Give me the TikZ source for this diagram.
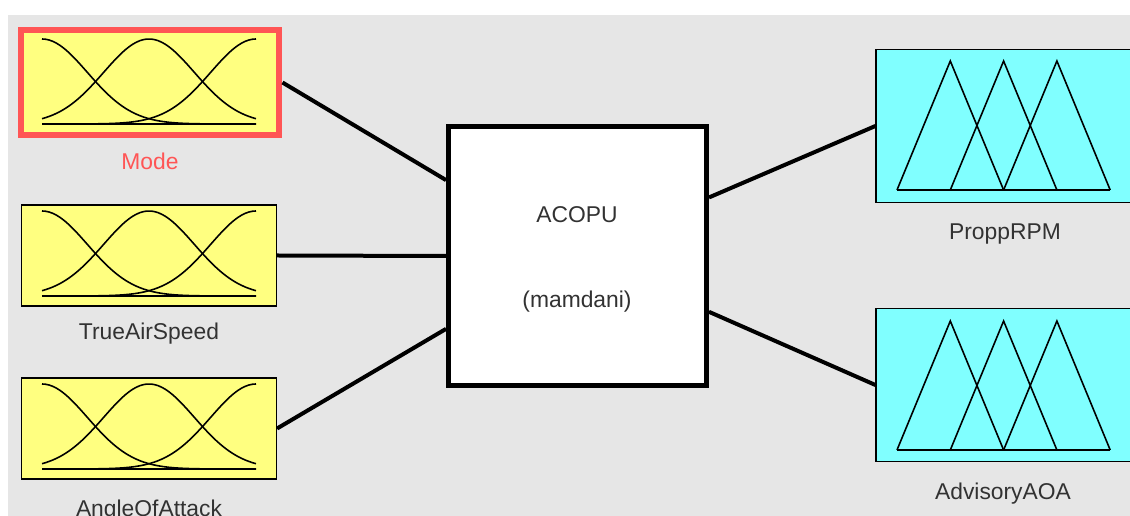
\documentclass[tikz,border=0pt]{standalone}
\usepackage{fontspec}
\setmainfont{Liberation Sans}

\definecolor{bggray}{RGB}{230,230,230}
\definecolor{infill}{RGB}{255,255,128}
\definecolor{outfill}{RGB}{128,255,255}
\definecolor{selred}{RGB}{255,85,85}
\definecolor{lblgray}{RGB}{50,50,50}

\tikzset{
  varbox/.style={draw=black, line width=0.7pt, inner sep=0pt, minimum width=5.1cm},
  inbox/.style={varbox, fill=infill, minimum height=2.02cm},
  outbox/.style={varbox, fill=outfill, minimum height=3.06cm},
  selbox/.style={inbox, draw=selred, line width=0.12cm, minimum width=5.18cm, minimum height=2.12cm},
  fisbox/.style={draw=black, fill=white, line width=0.1cm, inner sep=0pt, minimum width=5.16cm, minimum height=5.18cm},
  lbl/.style={font=\fontsize{13}{15}\selectfont, text=lblgray, inner sep=0pt, anchor=base},
  wire/.style={line width=0.08cm},
  mfline/.style={line width=0.9pt, black},
  pics/gaussmf/.style={code={
    \foreach \c in {0,107,214}
      \draw[mfline] plot[domain=0:214, samples=60, smooth] (\x, {-85*exp(-0.5*((\x-\c)/45.4)^2)});
    \draw[mfline] (0,0) -- (214,0);
  }},
  pics/trimf/.style={code={
    \foreach \c in {0,53.3,106.6}
      \draw[mfline, line join=miter] (\c,0) -- (\c+53.3,-129) -- (\c+106.6,0);
    \draw[mfline] (0,0) -- (213.2,0);
  }},
}

\begin{document}
\begin{tikzpicture}[x=0.02cm, y=-0.02cm]
\useasboundingbox (0,0) rectangle (1130,516);
\fill[bggray] (8,15) rectangle (1130,516);

% Inputs
\node[selbox] (mode) at (150,82.5) {};
\node[inbox] (tas) at (149,255.5) {};
\node[inbox] (aoa) at (149,428.5) {};
\pic at (42,124) {gaussmf};
\pic at (42,296) {gaussmf};
\pic at (42,469) {gaussmf};
\node[lbl, text=selred] (modelbl) at (150,170) {Mode};
\node[lbl] (taslbl) at (149,340) {TrueAirSpeed};
\node[lbl] (aoalbl) at (149,517) {AngleOfAttack};

% Rule block
\node[fisbox] (fis) at (577.5,256) {};
\node[lbl] (fisname) at (577,223) {ACOPU};
\node[lbl] (fistype) at (577,308) {(mamdani)};

% Outputs
\node[outbox] (rpm) at (1003.5,126) {};
\node[outbox] (adv) at (1003.5,385) {};
\pic at (897,190) {trimf};
\pic at (897,450) {trimf};
\node[lbl] (rpmlbl) at (1005,240) {ProppRPM};
\node[lbl] (advlbl) at (1003,500) {AdvisoryAOA};

% Wires
\draw[wire] (mode.east) -- (fis.150);
\draw[wire] (tas.east) -- (fis.west);
\draw[wire] (aoa.east) -- (fis.209);
\draw[wire] (fis.24) -- (rpm.west);
\draw[wire] (fis.337) -- (adv.west);
\end{tikzpicture}
\end{document}
